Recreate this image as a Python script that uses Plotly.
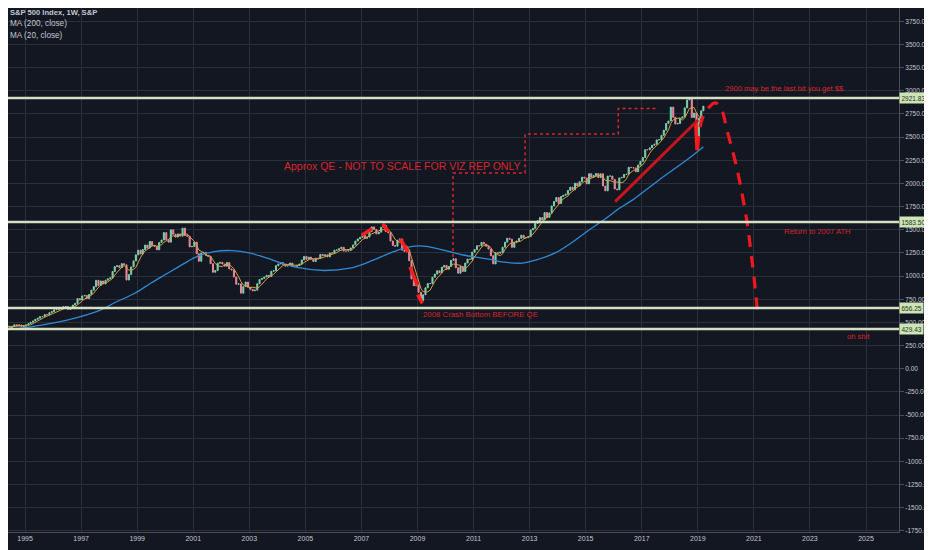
import pandas as pd
import plotly.graph_objects as go

# ---------------- data ----------------
# Monthly closes of the S&P 500, Jan 1994 .. Mar 2019
closes = [
    482, 467, 446, 451, 457, 444, 458, 475, 463, 472, 454, 459,
    470, 487, 501, 515, 533, 545, 562, 562, 584, 582, 605, 616,
    636, 641, 646, 654, 669, 671, 640, 652, 687, 705, 757, 741,
    786, 791, 757, 801, 848, 885, 954, 899, 947, 915, 955, 970,
    980, 1049, 1102, 1112, 1091, 1134, 1121, 957, 1017, 1099, 1164, 1229,
    1280, 1238, 1286, 1335, 1302, 1373, 1329, 1320, 1283, 1363, 1389, 1469,
    1394, 1366, 1499, 1452, 1421, 1455, 1431, 1518, 1437, 1429, 1315, 1320,
    1366, 1240, 1160, 1249, 1256, 1224, 1211, 1134, 1041, 1060, 1139, 1148,
    1130, 1107, 1147, 1077, 1067, 990, 912, 916, 815, 886, 936, 880,
    856, 841, 848, 917, 964, 975, 990, 1008, 996, 1051, 1058, 1112,
    1131, 1145, 1126, 1107, 1121, 1141, 1102, 1104, 1115, 1130, 1174, 1212,
    1181, 1204, 1181, 1157, 1192, 1191, 1234, 1220, 1229, 1207, 1249, 1248,
    1280, 1281, 1295, 1311, 1270, 1270, 1277, 1304, 1336, 1378, 1401, 1418,
    1438, 1407, 1421, 1482, 1531, 1503, 1455, 1474, 1527, 1549, 1481, 1468,
    1379, 1331, 1323, 1386, 1400, 1280, 1267, 1283, 1166, 969, 896, 903,
    826, 735, 798, 873, 919, 919, 987, 1021, 1057, 1036, 1096, 1115,
    1074, 1104, 1169, 1187, 1089, 1031, 1102, 1049, 1141, 1183, 1181, 1258,
    1286, 1327, 1326, 1364, 1345, 1321, 1292, 1219, 1131, 1253, 1247, 1258,
    1312, 1366, 1408, 1398, 1310, 1362, 1379, 1407, 1441, 1412, 1416, 1426,
    1498, 1515, 1569, 1598, 1631, 1606, 1686, 1633, 1682, 1757, 1806, 1848,
    1783, 1859, 1872, 1884, 1924, 1960, 1931, 2003, 1972, 2018, 2068, 2059,
    1995, 2105, 2068, 2086, 2107, 2063, 2104, 1972, 1920, 2079, 2080, 2044,
    1940, 1932, 2060, 2065, 2097, 2099, 2174, 2171, 2168, 2126, 2199, 2239,
    2279, 2364, 2363, 2384, 2412, 2423, 2470, 2472, 2519, 2575, 2648, 2674,
    2824, 2714, 2641, 2648, 2705, 2718, 2816, 2902, 2914, 2712, 2760, 2507,
    2704, 2784, 2834,
]
first_month = "1994-01-01"

# 200-week moving average
ma200_dates = ["1994-02-01", "1995-04-01", "1996-07-01", "1997-09-01", "1998-04-01",
               "1998-12-01", "1999-07-01", "2000-02-01", "2000-09-01", "2001-03-01",
               "2001-10-01", "2002-06-01", "2003-01-01", "2003-08-01", "2004-03-01",
               "2004-10-01", "2005-09-01", "2006-08-01", "2007-04-01", "2008-01-01",
               "2008-07-01", "2009-02-01", "2009-09-01", "2010-08-01", "2011-07-01",
               "2012-02-01", "2012-10-01", "2013-04-01", "2013-12-01", "2014-07-01",
               "2015-02-01", "2015-09-01", "2016-04-01", "2016-09-01", "2017-08-01",
               "2018-10-01", "2019-03-15"]
ma200_values = [410, 455, 525, 630, 720, 815, 925, 1030, 1135, 1215,
                1265, 1275, 1250, 1200, 1140, 1090, 1060, 1085, 1150, 1245,
                1300, 1325, 1300, 1230, 1185, 1150, 1140, 1175, 1250, 1360,
                1490, 1610, 1740, 1820, 2030, 2285, 2395]

# horizontal levels
levels = [2921.83, 1583.50, 656.25, 429.43]

# QE staircase (dotted)
qe_dates = ["2010-04-08", "2010-04-08", "2012-11-03", "2012-11-03",
            "2016-03-01", "2016-03-01", "2017-07-30"]
qe_values = [1206, 2113, 2113, 2534, 2534, 2809, 2809]

# rising trend line 2016 -> 2019
trend_dates = ["2016-01-20", "2019-01-05"]
trend_values = [1803, 2685]

# forecast (dashed)
fc_dates = ["2019-01-01", "2019-03-10", "2019-08-15", "2019-11-10", "2020-01-15",
            "2020-05-20", "2020-10-01", "2020-11-25", "2021-01-01", "2021-02-15"]
fc_values = [2380, 2720, 2870, 2790, 2580, 2180, 1600, 1250, 1000, 630]

# thick red highlight strokes
hl_segments = [
    (["2007-01-05", "2007-05-20"], [1440, 1510]),
    (["2007-10-05", "2007-12-20"], [1565, 1480]),
    (["2008-05-20", "2008-09-01"], [1400, 1260]),
    (["2008-09-25", "2008-12-31"], [1100, 900]),
    (["2009-01-05", "2009-03-05"], [800, 705]),
    (["2018-12-05", "2018-12-24"], [2650, 2360]),
]

year_ticks = [1995, 1997, 1999, 2001, 2003, 2005, 2007, 2009, 2011, 2013,
              2015, 2017, 2019, 2021, 2023, 2025]
price_ticks = [-1750, -1500, -1250, -1000, -750, -500, -250, 0, 250, 500, 750,
               1000, 1250, 1500, 1750, 2000, 2250, 2500, 2750, 3000, 3250, 3500, 3750]

notes = [
    ("Approx QE - NOT TO SCALE FOR VIZ REP ONLY", "2004-03-01", 2188, 10.5),
    ("2008 Crash Bottom BEFORE QE", "2009-02-15", 580, 7.8),
    ("2900 may be the last bit you get $$", "2019-11-25", 3020, 7.6),
    ("Return to 2007 ATH", "2022-01-01", 1476, 7.6),
    ("oh shit", "2024-04-01", 344, 7.6),
]

# ---------------- build ----------------
BG = "#131722"
GRID = "#2b2f3a"
TXT = "#c3c6ce"
RED = "#d9252b"
FONT = "Liberation Sans, Arial, sans-serif"

dates = pd.date_range(first_month, periods=len(closes), freq="MS") + pd.Timedelta(days=14)
s = pd.Series(closes, index=dates, dtype=float)
opens = s.shift(1).fillna(s.iloc[0])
highs = pd.concat([opens, s], axis=1).max(axis=1)
lows = pd.concat([opens, s], axis=1).min(axis=1)
ma20 = s.rolling(5, min_periods=1).mean()

fig = go.Figure()

fig.add_trace(go.Scatter(x=ma200_dates, y=ma200_values, mode="lines",
                         line=dict(color="#2f8ad6", width=1.3, shape="spline"),
                         hoverinfo="skip"))

fig.add_trace(go.Candlestick(x=dates, open=opens, high=highs, low=lows, close=s,
                             increasing=dict(line=dict(color="#7ccfae", width=1), fillcolor="#7ccfae"),
                             decreasing=dict(line=dict(color="#e5899a", width=1), fillcolor="#e5899a"),
                             whiskerwidth=0))

fig.add_trace(go.Scatter(x=dates, y=ma20, mode="lines",
                         line=dict(color="#dc9f3c", width=1), hoverinfo="skip"))

for d, v in hl_segments:
    fig.add_trace(go.Scatter(x=d, y=v, mode="lines",
                             line=dict(color="#ff1e1e", width=3.5), hoverinfo="skip"))

fig.add_trace(go.Scatter(x=trend_dates, y=trend_values, mode="lines",
                         line=dict(color="#c8141c", width=3), hoverinfo="skip"))

fig.add_trace(go.Scatter(x=qe_dates, y=qe_values, mode="lines",
                         line=dict(color=RED, width=1.5, dash="dot"), hoverinfo="skip"))

fig.add_trace(go.Scatter(x=fc_dates, y=fc_values, mode="lines",
                         line=dict(color="#f0181e", width=3.2, dash="12px,9px", shape="spline"),
                         hoverinfo="skip"))

for lv in levels:
    fig.add_shape(type="line", xref="paper", x0=0, x1=1, yref="y", y0=lv, y1=lv,
                  line=dict(color="#d5dfc3", width=2.5))
    fig.add_annotation(xref="paper", x=1, xanchor="left", yref="y", y=lv,
                       text=f"{lv:.2f}", showarrow=False,
                       bgcolor="#cde5b6", font=dict(color="#27331f", size=6.5, family=FONT),
                       borderpad=1.5, xshift=0)

for text, d, v, size in notes:
    fig.add_annotation(x=d, y=v, text=text, showarrow=False, xanchor="left",
                       font=dict(color=RED, size=size, family=FONT))

# plot area height in px (figure px); used to place the header lines
PLOT_H = 524
legend_lines = [("<b>S&P 500 Index, 1W, S&P</b>", 4.5, 7.6),
                ("MA (200, close)", 15.5, 8.2),
                ("MA (20, close)", 27, 8.2)]
for t, ypx, fs in legend_lines:
    fig.add_annotation(xref="paper", yref="paper", x=0, y=1 - ypx / PLOT_H, xanchor="left",
                       yanchor="middle", xshift=0, text=t, showarrow=False,
                       font=dict(color=TXT, size=fs, family=FONT))

fig.update_layout(
    width=932, height=550,
    margin=dict(l=0, r=41, t=0, b=26),
    paper_bgcolor=BG, plot_bgcolor=BG,
    showlegend=False,
    xaxis=dict(type="date", range=["1994-05-24", "2026-03-07"],
               tickvals=[f"{y}-01-01" for y in year_ticks], ticktext=[str(y) for y in year_ticks],
               showgrid=True, gridcolor=GRID, gridwidth=1, zeroline=False,
               showline=True, linecolor="#4a4e59", ticks="", rangeslider=dict(visible=False),
               tickfont=dict(color=TXT, size=7, family=FONT), automargin=False),
    yaxis=dict(side="right", range=[-1763, 3894],
               tickvals=price_ticks, ticktext=[f"{v:.2f}" for v in price_ticks],
               showgrid=True, gridcolor=GRID, gridwidth=1, zeroline=False,
               showline=True, linecolor="#4a4e59", ticks="outside", ticklen=4, tickcolor="#4a4e59",
               tickfont=dict(color=TXT, size=6.5, family=FONT), automargin=False),
)

fig.write_html("out.html")
